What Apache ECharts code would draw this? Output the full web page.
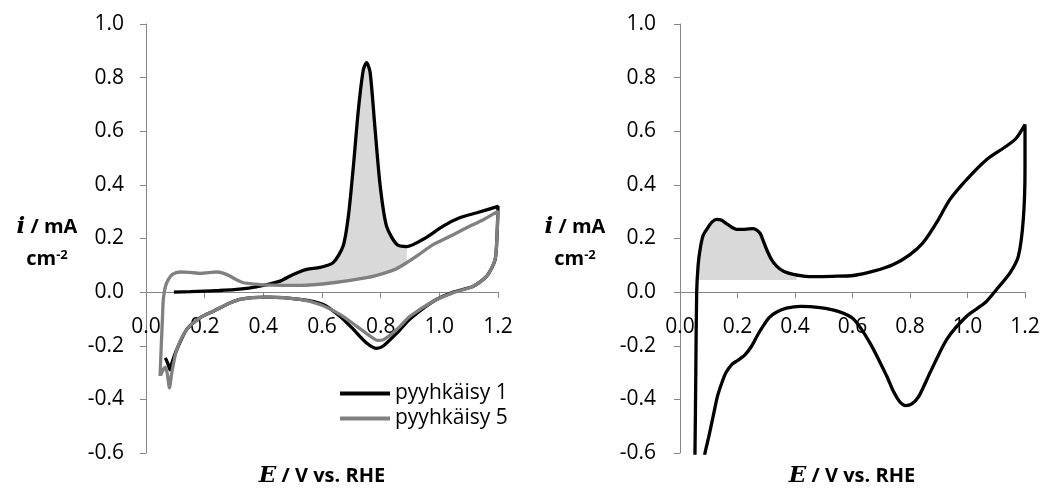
<!DOCTYPE html>
<html>
<head>
<meta charset="utf-8">
<script src="https://cdn.jsdelivr.net/npm/echarts@6/dist/echarts.min.js"></script>
<style>html,body{margin:0;padding:0;background:#fff}#c{width:1044px;height:488px}</style>
</head>
<body>
<div id="c"></div>
<script>
// ---------- DATA ----------
const xTicks = [0.0, 0.2, 0.4, 0.6, 0.8, 1.0, 1.2];
const yTicks = [-0.6, -0.4, -0.2, 0.0, 0.2, 0.4, 0.6, 0.8, 1.0];
const seriesNames = ['pyyhkäisy 1', 'pyyhkäisy 5'];

// Left chart, sweep 1 (E / V, i / mA cm-2)
const sweep1E = [0.095,0.15,0.2,0.25,0.3,0.35,0.4,0.457,0.502,0.548,0.593,0.638,0.672,0.69,0.707,0.724,0.741,0.752,0.764,0.78,0.798,0.82,0.855,0.889,0.945,1.013,1.071,1.128,1.2,
  1.197,1.19,1.162,1.116,1.048,0.98,0.9,0.855,0.81,0.786,0.752,0.707,0.661,0.604,0.525,0.41,0.32,0.275,0.23,0.184,0.139,0.105,0.088,0.082,0.074,0.066];
const sweep1I = [0.0,0.002,0.004,0.006,0.009,0.015,0.025,0.041,0.066,0.085,0.092,0.11,0.172,0.284,0.47,0.68,0.83,0.856,0.82,0.62,0.40,0.246,0.178,0.17,0.197,0.246,0.278,0.296,0.32,
  0.22,0.12,0.06,0.022,0.0,-0.034,-0.1,-0.153,-0.2,-0.21,-0.19,-0.139,-0.09,-0.046,-0.027,-0.019,-0.027,-0.046,-0.071,-0.096,-0.139,-0.214,-0.265,-0.29,-0.265,-0.245];

// Left chart, sweep 5
const sweep5E = [0.048,0.052,0.056,0.059,0.066,0.075,0.09,0.116,0.15,0.184,0.215,0.241,0.265,0.286,0.31,0.332,0.37,0.4,0.525,0.638,0.752,0.81,0.85,0.889,0.93,0.98,1.04,1.093,1.15,1.2,
  1.197,1.19,1.162,1.116,1.048,0.98,0.9,0.855,0.81,0.79,0.764,0.718,0.661,0.593,0.525,0.411,0.32,0.275,0.23,0.184,0.139,0.105,0.088,0.08,0.072,0.065,0.058,0.05];
const sweep5I = [-0.313,-0.2,-0.1,-0.027,0.02,0.045,0.066,0.075,0.074,0.07,0.073,0.075,0.07,0.06,0.045,0.035,0.03,0.027,0.025,0.035,0.054,0.07,0.085,0.11,0.14,0.178,0.21,0.24,0.27,0.302,
  0.22,0.122,0.06,0.022,-0.002,-0.034,-0.09,-0.139,-0.177,-0.18,-0.164,-0.127,-0.083,-0.046,-0.027,-0.019,-0.027,-0.046,-0.071,-0.096,-0.139,-0.214,-0.30,-0.357,-0.30,-0.28,-0.29,-0.31];

// Left shaded region (between sweep 1 and sweep 5, anodic)
const shadeLE = [0.4,0.457,0.502,0.548,0.593,0.638,0.672,0.69,0.707,0.724,0.741,0.752,0.764,0.78,0.798,0.82,0.855,0.889];
const shadeLTop = [0.025,0.041,0.066,0.085,0.092,0.11,0.172,0.284,0.47,0.68,0.83,0.856,0.82,0.62,0.40,0.246,0.178,0.17];
const shadeLBottom = [0.027,0.026,0.025,0.026,0.029,0.035,0.04,0.043,0.046,0.049,0.052,0.054,0.057,0.062,0.066,0.073,0.088,0.11];

// Right chart, single curve
const cvE = [0.05,0.052,0.055,0.058,0.063,0.07,0.08,0.093,0.11,0.128,0.145,0.162,0.18,0.197,0.225,0.255,0.278,0.29,0.301,0.318,0.336,0.36,0.394,0.43,0.464,0.53,0.603,0.673,0.742,0.8,0.846,0.893,0.939,0.997,1.067,1.136,1.17,1.2,
  1.2,1.194,1.177,1.148,1.101,1.061,0.997,0.928,0.87,0.83,0.805,0.785,0.765,0.74,0.719,0.661,0.603,0.55,0.487,0.42,0.37,0.335,0.31,0.29,0.27,0.25,0.225,0.2,0.18,0.16,0.145,0.13,0.116,0.1,0.087,0.08];
const cvI = [-0.7,-0.61,-0.3,0.0,0.1,0.16,0.21,0.234,0.26,0.271,0.268,0.255,0.242,0.234,0.234,0.237,0.22,0.19,0.16,0.122,0.097,0.078,0.066,0.06,0.058,0.059,0.062,0.078,0.103,0.14,0.185,0.26,0.346,0.42,0.495,0.545,0.575,0.625,
  0.46,0.27,0.134,0.072,0.01,-0.04,-0.09,-0.176,-0.3,-0.39,-0.418,-0.423,-0.41,-0.365,-0.313,-0.19,-0.10,-0.072,-0.058,-0.053,-0.06,-0.075,-0.095,-0.125,-0.16,-0.2,-0.235,-0.255,-0.27,-0.3,-0.34,-0.39,-0.46,-0.54,-0.6,-0.66];

// Right shaded region (under the hydrogen peaks, above a baseline)
const shadeRE = [0.06,0.063,0.07,0.08,0.093,0.11,0.128,0.145,0.162,0.18,0.197,0.225,0.255,0.278,0.29,0.301,0.318,0.336,0.36,0.394,0.406];
const shadeRTop = [0.045,0.1,0.16,0.21,0.234,0.26,0.271,0.268,0.255,0.242,0.234,0.234,0.237,0.22,0.19,0.16,0.122,0.097,0.078,0.066,0.064];
const shadeRBase = 0.045;

// ---------- CHART ----------
const zip = (a, b) => a.map((v, k) => [v, b[k]]);
const FONT = 'Open Sans';
const AXIS_COLOR = '#868686';
const GRID_H = 429;
const yMin = yTicks[0], yMax = yTicks[yTicks.length - 1];
// move the x axis (line, ticks and labels) up to i = 0, as in the reference
const zeroOffset = -GRID_H * (0 - yMin) / (yMax - yMin);

function xAxisCfg(gi) {
  return {
    type: 'value', gridIndex: gi, position: 'bottom', offset: zeroOffset,
    min: xTicks[0], max: xTicks[xTicks.length - 1], interval: 0.2,
    axisLine: { onZero: false, lineStyle: { color: AXIS_COLOR, width: 1 } },
    axisTick: { show: true, inside: false, length: 6, lineStyle: { color: AXIS_COLOR } },
    axisLabel: { fontFamily: FONT, fontSize: 21, color: '#000', margin: 24, formatter: v => v.toFixed(1) },
    splitLine: { show: false }
  };
}
function yAxisCfg(gi, margin) {
  return {
    type: 'value', gridIndex: gi, min: yMin, max: yMax, interval: 0.2,
    axisLine: { show: true, onZero: false, lineStyle: { color: AXIS_COLOR, width: 1 } },
    axisTick: { show: true, inside: false, length: 6, lineStyle: { color: AXIS_COLOR } },
    axisLabel: { fontFamily: FONT, fontSize: 21, color: '#000', margin: margin, formatter: v => v.toFixed(1) },
    splitLine: { show: false }
  };
}
function shadePolygon(E, top, bottom) {
  return function (params, api) {
    const pts = [];
    for (let k = 0; k < E.length; k++) pts.push(api.coord([E[k], top[k]]));
    for (let k = E.length - 1; k >= 0; k--) pts.push(api.coord([E[k], Array.isArray(bottom) ? bottom[k] : bottom]));
    return { type: 'polygon', shape: { points: pts, smooth: 0 }, style: { fill: '#d9d9d9' }, silent: true };
  };
}
const richBase = {
  it: { fontFamily: 'DejaVu Serif', fontStyle: 'italic', fontWeight: 'bold', fontSize: 23, fill: '#000', color: '#000' },
  b: { fontFamily: FONT, fontWeight: 'bold', fontSize: 20, fill: '#000', color: '#000' },
  s: { fontFamily: FONT, fontWeight: 'bold', fontSize: 13, fill: '#000', color: '#000', verticalAlign: 'top' }
};
function txt(x, y, text) {
  return { type: 'text', x: x, y: y, silent: true,
    style: { text: text, align: 'center', verticalAlign: 'middle', textAlign: 'center', textVerticalAlign: 'middle', rich: richBase } };
}

const chart = echarts.init(document.getElementById('c'), null, { renderer: 'canvas' });
chart.setOption({
  animation: false,
  backgroundColor: '#fff',
  grid: [
    { left: 146, top: 24, width: 352, height: GRID_H },
    { left: 680, top: 24, width: 345, height: GRID_H }
  ],
  xAxis: [xAxisCfg(0), xAxisCfg(1)],
  yAxis: [yAxisCfg(0, 22), yAxisCfg(1, 24)],
  legend: {
    data: seriesNames, orient: 'vertical', left: 335, top: 378, icon: 'rect', itemWidth: 50, itemHeight: 4, itemGap: 4,
    textStyle: { fontFamily: FONT, fontSize: 21, color: '#000' }
  },
  graphic: [
    txt(47, 227, '{it|i}{b| / mA}'),
    txt(47, 259, '{b|cm}{s|-2}'),
    txt(575, 227, '{it|i}{b| / mA}'),
    txt(575, 259, '{b|cm}{s|-2}'),
    txt(322, 476, '{it|E}{b| / V vs. RHE}'),
    txt(852, 476, '{it|E}{b| / V vs. RHE}')
  ],
  series: [
    { type: 'custom', xAxisIndex: 0, yAxisIndex: 0, data: [[0, 0]], renderItem: shadePolygon(shadeLE, shadeLTop, shadeLBottom), z: 1 },
    { type: 'custom', xAxisIndex: 1, yAxisIndex: 1, data: [[0, 0]], renderItem: shadePolygon(shadeRE, shadeRTop, shadeRBase), z: 1 },
    { name: seriesNames[0], type: 'line', xAxisIndex: 0, yAxisIndex: 0, data: zip(sweep1E, sweep1I), smooth: 0.25, symbol: 'none',
      lineStyle: { color: '#000', width: 3.3 }, itemStyle: { color: '#000' }, z: 3 },
    { name: seriesNames[1], type: 'line', xAxisIndex: 0, yAxisIndex: 0, data: zip(sweep5E, sweep5I), smooth: 0.25, symbol: 'none',
      lineStyle: { color: '#808080', width: 3.3 }, itemStyle: { color: '#808080' }, z: 4 },
    { name: 'cv', type: 'line', xAxisIndex: 1, yAxisIndex: 1, data: zip(cvE, cvI), smooth: 0.25, symbol: 'none', clip: true,
      lineStyle: { color: '#000', width: 3.3 }, itemStyle: { color: '#000' }, z: 3 }
  ]
});
</script>
</body>
</html>
